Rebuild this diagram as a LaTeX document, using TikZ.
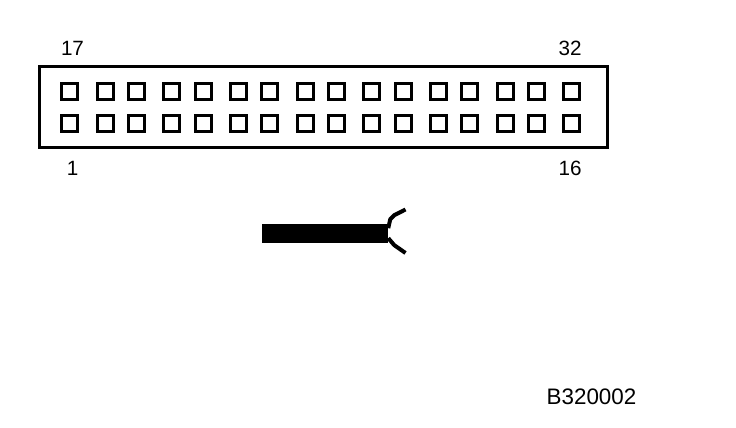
\documentclass[tikz,border=0pt]{standalone}
\usepackage{fontspec}
\setmainfont{Liberation Sans}
\tikzset{
  pin/.style={draw, line width=2.25pt, minimum size=12pt, inner sep=0pt, outer sep=0pt},
  lbl/.style={font=\fontsize{15.5}{16}\selectfont, inner sep=0pt},
  wire/.style={line width=3pt, line join=round}
}
\begin{document}
\begin{tikzpicture}[x=.75pt, y=-.75pt]
\useasboundingbox (0,0) rectangle (736,428);
\node[draw, line width=2.25pt, minimum width=426pt, minimum height=60.75pt, inner sep=0pt] (housing) at (323,107.5){};
\foreach \x [count=\i] in {69.5,105.5,136.5,171.5,203.5,238.5,269.5,305.5,336.5,371.5,403.5,438.5,469.5,505.5,536.5,571.5}
{
\node[pin] (upper\i) at (\x,91.5){};
\node[pin] (lower\i) at (\x,123.5){};
}
\node[lbl] (n17) at (72.5,48.5){17};
\node[lbl] (n32) at (570,48.5){32};
\node[lbl] (n1) at (72.5,168.5){1};
\node[lbl] (n16) at (570,168.5){16};
\node[lbl, font=\fontsize{16.8}{17}\selectfont] (code) at (591.5,397){B320002};

\node[fill=black, minimum width=94.5pt, minimum height=14.25pt, inner sep=0pt] (cable) at (325,233.5){};
\coordinate (upperend) at (405.5,209.5);
\coordinate (lowerend) at (405.5,253);
\draw[wire] ([yshift=4pt]cable.east) -- ++(2,-9) -- ++(4,-4) -- (upperend);
\draw[wire] ([yshift=-3.5pt]cable.east) -- ++(6,7) -- (lowerend);
\end{tikzpicture}
\end{document}
